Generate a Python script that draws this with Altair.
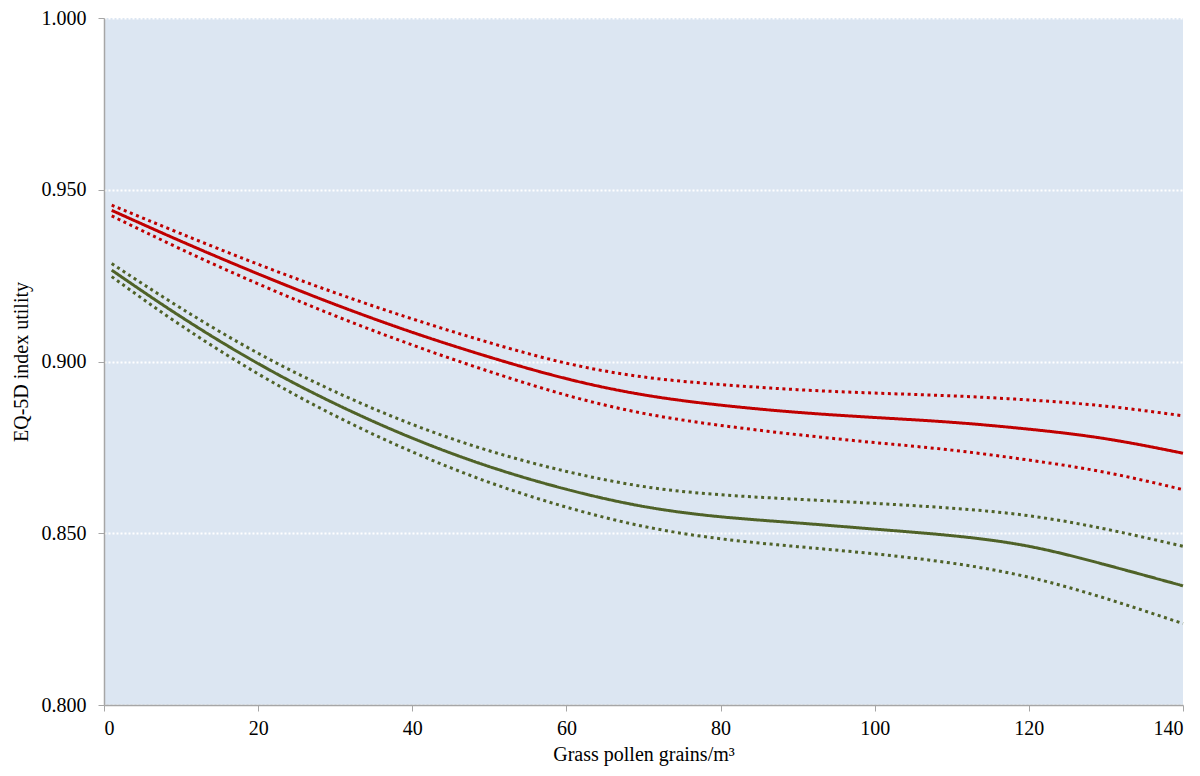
import altair as alt
import pandas as pd

pollen = [1, 10, 20, 30, 40, 50, 60, 70, 80, 90, 100, 110, 120, 130, 140]

red_mean = [0.9440, 0.9350, 0.9255, 0.9166, 0.9085, 0.9013, 0.8950, 0.8903, 0.8873, 0.8852, 0.8837, 0.8823, 0.8803, 0.8775, 0.8733]
red_upper = [0.9455, 0.9372, 0.9283, 0.9200, 0.9124, 0.9055, 0.8995, 0.8955, 0.8933, 0.8918, 0.8908, 0.8900, 0.8888, 0.8870, 0.8842]
red_lower = [0.9424, 0.9327, 0.9226, 0.9133, 0.9048, 0.8971, 0.8902, 0.8849, 0.8814, 0.8787, 0.8764, 0.8742, 0.8713, 0.8677, 0.8627]

green_mean = [0.9266, 0.9130, 0.8994, 0.8877, 0.8777, 0.8694, 0.8628, 0.8578, 0.8548, 0.8530, 0.8512, 0.8493, 0.8462, 0.8408, 0.8347]
green_upper = [0.9285, 0.9155, 0.9024, 0.8912, 0.8817, 0.8740, 0.8680, 0.8636, 0.8612, 0.8599, 0.8587, 0.8573, 0.8551, 0.8512, 0.8462]
green_lower = [0.9247, 0.9105, 0.8964, 0.8842, 0.8737, 0.8648, 0.8576, 0.8520, 0.8484, 0.8461, 0.8440, 0.8413, 0.8372, 0.8310, 0.8237]

x_ticks = [0, 20, 40, 60, 80, 100, 120, 140]
y_ticks = [0.80, 0.85, 0.90, 0.95, 1.00]

series = [
    ("red_mean", "red", "solid", red_mean),
    ("red_upper", "red", "dotted", red_upper),
    ("red_lower", "red", "dotted", red_lower),
    ("green_mean", "green", "solid", green_mean),
    ("green_upper", "green", "dotted", green_upper),
    ("green_lower", "green", "dotted", green_lower),
]
rows = []
for name, grp, kind, vals in series:
    for xv, yv in zip(pollen, vals):
        rows.append({"pollen": xv, "utility": yv, "series": name, "group": grp, "kind": kind})
df = pd.DataFrame(rows)

FONT = "Liberation Serif"

chart = alt.Chart(df).mark_line(interpolate="natural", strokeWidth=3, strokeCap="butt").encode(
    x=alt.X("pollen:Q",
            scale=alt.Scale(domain=[0, 140], nice=False, zero=False),
            axis=alt.Axis(values=x_ticks, title="Grass pollen grains/m³", grid=False,
                          tickSize=6, labelPadding=7, titlePadding=6,
                          labelFontSize=20, titleFontSize=20, titleFontWeight="normal")),
    y=alt.Y("utility:Q",
            scale=alt.Scale(domain=[0.8, 1.0], nice=False, zero=False),
            axis=alt.Axis(values=y_ticks, format=".3f", title="EQ-5D index utility",
                          grid=True, gridColor="white", gridDash=[2, 2], gridWidth=2,
                          tickSize=6, labelPadding=12, titlePadding=10,
                          labelFontSize=20, titleFontSize=20, titleFontWeight="normal")),
    color=alt.Color("group:N", scale=alt.Scale(domain=["red", "green"], range=["#c00000", "#4f6228"]), legend=None),
    strokeDash=alt.StrokeDash("kind:N", scale=alt.Scale(domain=["solid", "dotted"], range=[[1, 0], [3, 3.6]]), legend=None),
    detail="series:N",
).properties(
    width=1079,
    height=687,
    autosize=alt.AutoSizeParams(type="none"),
    padding={"left": 96, "top": 10, "right": 9, "bottom": 63},
).configure_view(
    fill="#dce6f2", stroke=None
).configure_axis(
    labelFont=FONT, titleFont=FONT, labelColor="black", titleColor="black",
    domainColor="#a6a6a6", tickColor="#a6a6a6", domainWidth=1.5, tickWidth=1,
)

chart.save("out.html", embed_options={"renderer": "svg", "actions": False})
